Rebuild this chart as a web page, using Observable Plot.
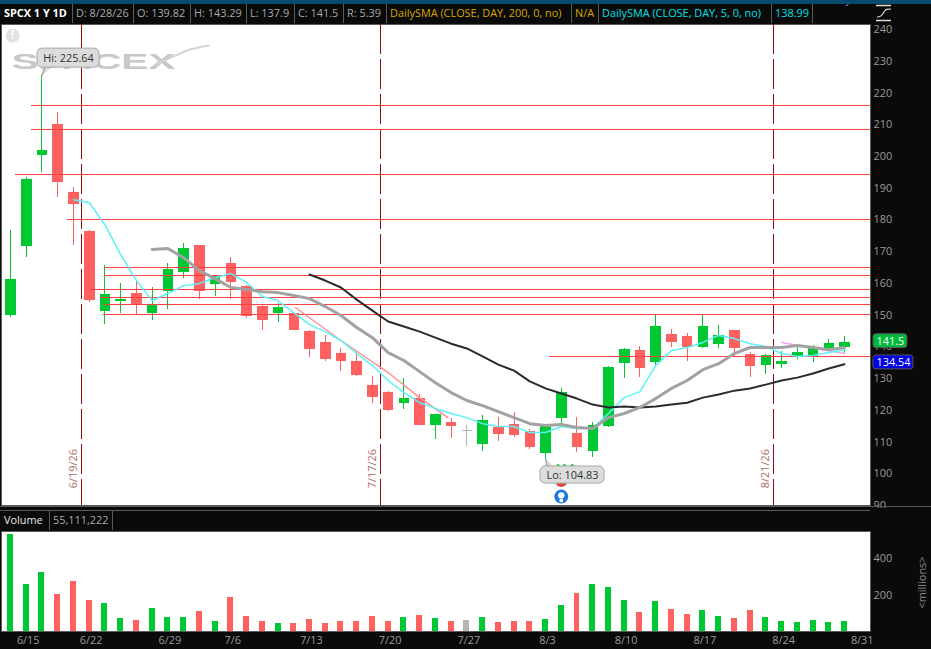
<!DOCTYPE html>
<html>
<head>
<meta charset="utf-8">
<script src="https://cdn.jsdelivr.net/npm/d3@7"></script>
<script src="https://cdn.jsdelivr.net/npm/@observablehq/plot@0.6"></script>
<style>
html,body{margin:0;padding:0;background:#0a0a0a;overflow:hidden}
#page{position:relative;width:931px;height:649px;background:#0a0a0a;font-family:"Open Sans",sans-serif;overflow:hidden}
.cell{position:absolute;white-space:nowrap;font-size:10.9px;line-height:20px;height:20px}
.sep{position:absolute;width:1px;background:#5a5a5a}
.hl{position:absolute;background:#5a5a5a;height:1px}
</style>
</head>
<body>
<div id="page"></div>
<script>
// ---------- data ----------
const opens  = [149.9,171.6,200.3,210,188.6,176.3,151.1,154.3,156.8,150.5,157.4,163.4,171.9,159.6,166.3,159,152.7,150.5,150.5,144.8,141.4,137.9,135.4,127.8,125.6,122.1,123.7,115.2,116.1,113.6,109.2,114.6,115.5,113.3,106.4,117.4,112.7,107,114.9,134.7,138.8,135,143.9,143.2,139.8,140.7,145.1,137.6,134.1,134.4,137,137,139.5,139.82];
const closes = [161.2,192.7,201.9,191.8,184.8,154.6,156.5,154.9,153.3,153,164.4,171,157.4,162.2,160.3,149.5,148.3,152.4,145.1,139.1,136,135.4,131,124,119.9,123.7,115.2,118.7,114.9,113.6,116.8,112.4,112,108.3,114.9,125.6,108.3,115.2,133.5,139.2,133.2,146.4,141.4,139.8,146.4,143.6,139.5,133.8,137.3,135.4,138.2,139.5,141,141.5];
const highs  = [176.7,193.4,225.64,213.8,190.2,176.7,165.6,160,160.9,158.7,166.3,172.6,171.9,162.2,168.1,159.3,153,153.6,150.8,145.1,143.6,139.5,138.2,130.6,125.9,130,125,118.7,117.4,115.2,118.4,117.7,119.3,113.9,114.9,126.9,117.7,116.1,133.8,139.5,140.1,149.9,145.5,144.2,149.9,146.7,145.1,138.2,137.6,138.5,139.8,140.4,142.3,143.29];
const lows   = [149.3,168.1,194.9,187.1,171.9,154,147,150.5,150.2,148.3,151.8,161.5,154.9,155.9,154.9,148.9,145.1,147.7,145.1,136.6,135.4,132.2,130.6,122.1,119.6,120.2,115.2,110.8,111,108.6,107,110.2,111.4,107.6,104.83,115.8,106.7,105.1,114.6,130,130.3,134.1,139.8,135.4,139.5,139.5,137,130.3,131.3,133.2,136,135,138.9,137.9];
const volumes= [524,254,319,200,270,168,151,70,59,124,76,76,108,54,184,81,54,43,43,65,43,54,54,81,54,76,86,70,54,59,76,49,54,54,65,141,205,254,238,168,103,162,119,92,114,81,70,114,76,54,49,59,49,55.1];

const sma5Start = 4;
const sma5 = [186.4,185.5,178.5,169.1,160.9,154.6,156.8,159.3,160,161.8,163.1,160.3,155.9,154.6,150.8,147,144.8,142,137.9,134.1,129.4,125.6,122.4,120.6,119,117.7,115.8,114.9,114.9,113,113,114.9,114.3,114.3,119,124,125.9,134.1,138.8,139.8,141.4,143.6,142.6,141,140.1,137.9,137,137.3,138.2,138.99];
const greyStart = 9;
const greySma = [170.7,171,168.1,164,161.5,158.7,158.1,157.4,157.1,156.2,155.2,152.7,149.9,146.1,142.9,138.2,135.7,132.2,128.7,125.6,123.1,121.5,119.6,117.7,115.8,115.2,115.5,114.6,114.3,117.7,119,120.9,123.7,126.9,129.4,132.8,134.7,137.9,139.8,139.8,139.8,140.4,139.8,139.1,139.8];
const darkStart = 19;
const darkSma = [162.8,160.9,158.7,154.9,151.4,148,146.4,144.8,142.9,141,139.5,137,134.4,132.5,129.1,126.9,125.3,123.7,121.8,120.9,121.2,120.9,121.2,121.8,122.4,124,125,126.2,126.9,128.1,129.4,130.3,131.6,133.2,134.54];
const salmonIdx = [18.1,21,24,26,27.8];
const salmonVal = [152.4,142,131.9,124,117.7];
const pinkIdx = [49,53];
const pinkVal = [141.4,137.9];

const levelVal   = [216,208.4,194.2,180,164.9,162.4,158,155.4,153.2,150.1,137];
const levelStart = [1.33,1.33,0.32,3.62,6.04,5.97,5.15,5.72,5.97,5.91,34.25];

const eventIdx = [4.5,23.5,48.5];
const eventLabels = ["6/19/26","7/17/26","8/21/26"];
const eventLabelPrice = 101.6;

const priceTicks = [240,230,220,210,200,190,180,170,160,150,140,130,120,110,100,90];
const volumeTicks = [200,400];
const weekIdx = [1,5,10,14,19,24,29,34,39,44,49,54];
const weekLabels = ["6/15","6/22","6/29","7/6","7/13","7/20","7/27","8/3","8/10","8/17","8/24","8/31"];

const headerCells = [
  ["SPCX 1 Y 1D",4,"#ffffff",700],["D: 8/28/26",76,"#a8a8a8",400],["O: 139.82",137,"#a8a8a8",400],
  ["H: 143.29",194,"#a8a8a8",400],["L: 137.9",250,"#a8a8a8",400],["C: 141.5",298,"#a8a8a8",400],
  ["R: 5.39",347,"#a8a8a8",400],["DailySMA (CLOSE, DAY, 200, 0, no)",390,"#d8a800",400],["N/A",575,"#d8a800",400],
  ["DailySMA (CLOSE, DAY, 5, 0, no)",602,"#00e0e8",400],["138.99",775,"#00e0e8",400]
];
const headerSeps = [72,133,190,246,294,343,386,571,598,771,812];

// ---------- colours ----------
const GREEN="#00c832", RED="#ff6060", GREY="#b4b4b4";
const candleColor = i => closes[i]>opens[i]?GREEN:closes[i]<opens[i]?RED:GREY;
const idx = d3.range(opens.length);
const series = (start,vals)=>vals.map((v,i)=>({x:start+i,y:v}));
const xDomain=[-0.572,54.652];
const font='"Open Sans",sans-serif';
const crisp="crispEdges";

// ---------- price panel ----------
const wm = {x:5.27,y:229.9};
const swooshIdx=[9.2,10.5,11.4,12.6], swooshVal=[229,231.8,233.7,235];
const hiBox={x1:1.72,x2:5.66,y1:228,y2:234,t:"Hi: 225.64"}, loBox={x1:33.68,x2:37.75,y1:96.9,y2:102.3,t:"Lo: 104.83"};
const hiTri=[[2,225.64],[2.2,228.2],[2.65,228.2]].map(([x,y])=>({x,y}));
const loTri=[[34,104.83],[34.1,102.1],[34.55,102.1]].map(([x,y])=>({x,y}));
const priceBadges=[
 {x1:54.84,x2:57,y1:139.6,y2:144,t:"141.5",f:"#00b83c"},
 {x1:54.84,x2:57.38,y1:132.9,y2:137.3,t:"134.54",f:"#0000e0"}
];

const pricePlot = Plot.plot({
  width:931,height:484,marginLeft:1,marginRight:61,marginTop:0,marginBottom:3,
  x:{domain:xDomain,axis:null},
  y:{domain:[90,241.6],axis:null},
  color:{type:"identity"},
  style:{background:"transparent",fontFamily:font},
  marks:[
    Plot.frame({fill:"#fff",stroke:"#5a5a5a"}),
    Plot.axisY({anchor:"right",ticks:priceTicks,tickSize:0,tickPadding:3,color:"#9a9a9a",fontSize:10.9,label:null}),
    Plot.text(["SPACEX"],{x:()=>wm.x,y:()=>wm.y,text:d=>d,fontSize:22,fontWeight:700,fill:"#c8c8c8",fontFamily:"Liberation Sans",className:"wm"}),
    Plot.line(swooshIdx.map((x,i)=>({x,y:swooshVal[i]})),{x:"x",y:"y",stroke:"#d4d4d4",strokeWidth:2,curve:"catmull-rom"}),
    Plot.dot([0.13],{x:d=>d,y:()=>238.1,r:7,fill:"#e2e2e2"}),
    Plot.text(["!"],{x:()=>0.13,y:()=>238.1,text:d=>d,fill:"#fff",fontWeight:700,fontSize:12}),
    Plot.ruleX(eventIdx,{x:d=>d,stroke:"#8f0f0f",strokeWidth:1.2,strokeDasharray:"30,5",shapeRendering:crisp}),
    Plot.text(eventIdx,{x:d=>d,y:()=>eventLabelPrice,text:(d,i)=>eventLabels[i],rotate:-90,dx:-8,fill:"#b06a6a",fontSize:10.9}),
    // candles
    Plot.ruleX(idx,{x:d=>d,y1:i=>lows[i],y2:i=>highs[i],stroke:candleColor,strokeWidth:1,shapeRendering:crisp}),
    Plot.rect(idx.filter(i=>opens[i]!==closes[i]),{x1:i=>i-0.3,x2:i=>i+0.37,y1:i=>opens[i],y2:i=>closes[i],fill:candleColor,shapeRendering:crisp}),
    Plot.ruleY(idx.filter(i=>opens[i]===closes[i]),{y:i=>opens[i],x1:i=>i-0.3,x2:i=>i+0.37,stroke:candleColor,strokeWidth:1,shapeRendering:crisp}),
    // levels
    Plot.ruleY(levelVal,{y:d=>d,x1:(d,i)=>levelStart[i],x2:()=>xDomain[1],stroke:"#ff4040",strokeWidth:1,shapeRendering:crisp}),
    // averages
    Plot.line(salmonIdx.map((x,i)=>({x,y:salmonVal[i]})),{x:"x",y:"y",stroke:"#ff9090",strokeWidth:1.4}),
    Plot.line(pinkIdx.map((x,i)=>({x,y:pinkVal[i]})),{x:"x",y:"y",stroke:"#f0a8f0",strokeWidth:1.6}),
    Plot.line(series(sma5Start,sma5),{x:"x",y:"y",stroke:"#5cf2f8",strokeWidth:1.5}),
    Plot.line(series(darkStart,darkSma),{x:"x",y:"y",stroke:"#2a2a30",strokeWidth:2}),
    Plot.line(series(greyStart,greySma),{x:"x",y:"y",stroke:"#a2a2a2",strokeWidth:3}),
    // low/high callouts
    Plot.dot([35],{x:d=>d,y:()=>97.7,r:6,fill:"#e04848"}),
    Plot.dot([34.2,34.8,35.2,35.7],{x:d=>d,y:()=>102.6,r:1.6,fill:GREEN}),
    Plot.line(hiTri,{x:"x",y:"y",fill:"#dcdcdc",stroke:"#a8a8a8"}),
    Plot.line(loTri,{x:"x",y:"y",fill:"#dcdcdc",stroke:"#a8a8a8"}),
    Plot.rect([hiBox,loBox],{x1:"x1",x2:"x2",y1:"y1",y2:"y2",rx:5,fill:"#dcdcdc",stroke:"#a8a8a8"}),
    Plot.text([hiBox,loBox],{x:d=>(d.x1+d.x2)/2,y:d=>(d.y1+d.y2)/2,text:"t",fill:"#333",fontSize:10.9}),
    Plot.dot([35],{x:d=>d,y:()=>92.8,r:7,fill:"#1a78e0"}),
    Plot.dot([35],{x:d=>d,y:()=>93.2,r:3.2,fill:"#fff"}),
    Plot.ruleX([35],{x:d=>d,y1:()=>90.9,y2:()=>92,stroke:"#fff",strokeWidth:3.5}),
    // last price badges
    Plot.rect(priceBadges,{x1:"x1",x2:"x2",y1:"y1",y2:"y2",rx:3,fill:"f",stroke:"#555"}),
    Plot.text(priceBadges,{x:d=>(d.x1+d.x2)/2,y:d=>(d.y1+d.y2)/2,text:"t",fill:"#fff",fontSize:10.9})
  ]
});
d3.select(pricePlot).select(".wm text").attr("textLength",164).attr("lengthAdjust","spacingAndGlyphs");
pricePlot.style.position="absolute";pricePlot.style.left="0";pricePlot.style.top="24px";pricePlot.style.overflow="hidden";

// ---------- volume panel ----------
const volPlot = Plot.plot({
  width:931,height:118,marginLeft:1,marginRight:61,marginTop:0,marginBottom:18,
  x:{domain:xDomain,axis:null},
  y:{domain:[0,540.5],axis:null},
  color:{type:"identity"},
  style:{background:"transparent",fontFamily:font},
  marks:[
    Plot.frame({fill:"#fff",stroke:"#5a5a5a"}),
    Plot.rectY(idx,{x1:i=>i-0.19,x2:i=>i+0.19,y:i=>volumes[i],fill:candleColor,shapeRendering:crisp}),
    Plot.axisY({anchor:"right",ticks:volumeTicks,tickSize:0,tickPadding:3,dy:1.5,color:"#9a9a9a",fontSize:10.9,label:null}),
    Plot.axisX({anchor:"bottom",ticks:weekIdx,tickFormat:d=>weekLabels[weekIdx.indexOf(d)],tickSize:0,tickPadding:5,dx:2,color:"#9a9a9a",fontSize:10.9,label:null}),
    Plot.text(["<millions>"],{x:()=>57.96,y:()=>265,text:d=>d,rotate:-90,fill:"#8a8a8a",fontSize:10.9})
  ]
});
volPlot.style.position="absolute";volPlot.style.left="0";volPlot.style.top="531px";volPlot.style.overflow="visible";

// ---------- chrome: header bars ----------
const page=document.getElementById("page");
function el(cls,css,text){const e=document.createElement("div");e.className=cls;e.style.cssText=css;if(text)e.textContent=text;page.appendChild(e);return e;}
el("","position:absolute;left:0;top:0;width:931px;height:4px;background:#0a4a6e");
headerCells.forEach(([t,x,c,w])=>el("cell",`left:${x}px;top:3px;color:${c};font-weight:${w}`,t));
headerSeps.forEach(x=>el("sep",`left:${x}px;top:4px;height:19px`));
const clipped=el("","position:absolute;left:813px;top:4px;width:48px;height:4px;overflow:hidden");
clipped.innerHTML='<span style="position:absolute;left:4px;top:-13px;font-size:10.9px;color:#d060f0">Hourly</span>';
page.appendChild(pricePlot);
el("hl","left:0;top:506px;width:931px");
el("hl","left:0;top:510px;width:870px");
el("cell","left:4px;top:510px;color:#e8e8e8","Volume");
el("cell","left:53px;top:510px;color:#a8a8a8","55,111,222");
el("sep","left:49px;top:510px;height:20px");
el("sep","left:112px;top:510px;height:20px");
page.appendChild(volPlot);
const icon=el("","position:absolute;left:876px;top:4px;width:16px;height:18px");
icon.innerHTML='<svg width="16" height="18"><path d="M0 1.5H15M0 16.5H15" stroke="#ddd" stroke-width="1.6"/><path d="M1 13C5 13 6 11 8 8S11 5 15 5" stroke="#ddd" fill="none" stroke-width="1.1"/></svg>';
</script>
</body>
</html>
